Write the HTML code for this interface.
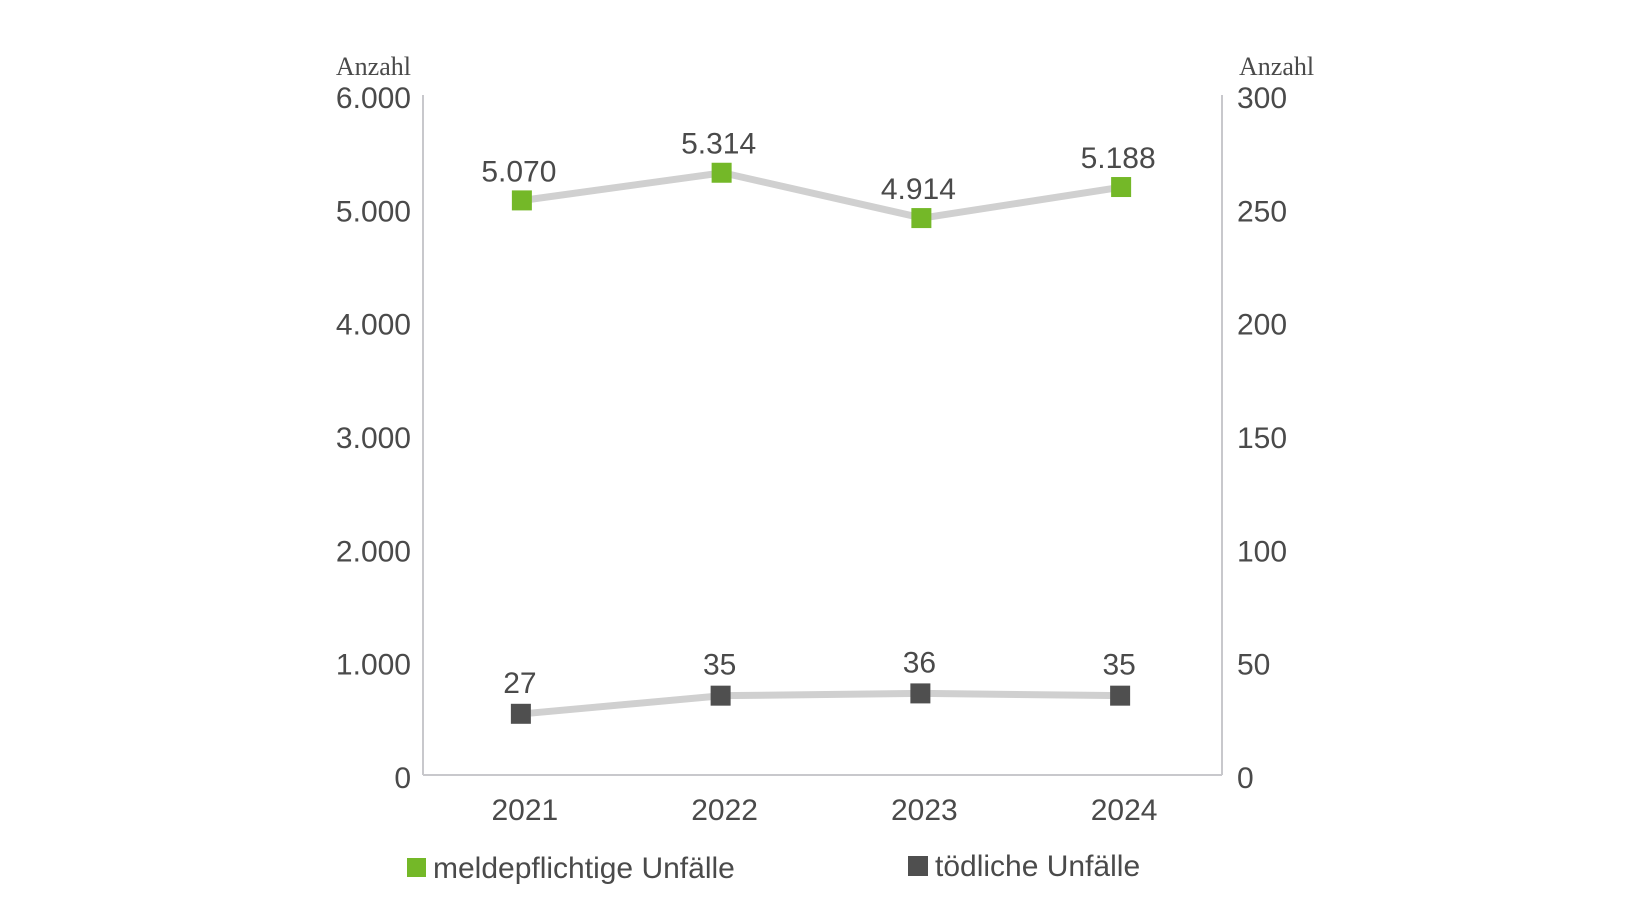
<!DOCTYPE html>
<html><head><meta charset="utf-8"><style>
html,body{margin:0;padding:0;background:#fff;}
svg{display:block;}
text{font-family:"Liberation Sans",sans-serif;fill:#4a4a4a;}
</style></head><body>
<svg width="1632" height="918" viewBox="0 0 1632 918">
<text x="411" y="75" text-anchor="end" font-family="Liberation Serif,serif" style="font-family:'Liberation Serif',serif" font-size="26">Anzahl</text>
<text x="1239" y="75" text-anchor="start" style="font-family:'Liberation Serif',serif" font-size="26">Anzahl</text>
<g id="axes"></g>
<g id="lines"></g>
<g id="marks"></g>
<rect x="407" y="858" width="19" height="19" fill="#74b828"/>
<text x="433" y="878" font-size="30">meldepflichtige Unfälle</text>
<rect x="908" y="856" width="20" height="20" fill="#4f4f4f"/>
<text x="935" y="876" font-size="30">tödliche Unfälle</text>
</svg>
<script>
const categories=["2021","2022","2023","2024"];
const reportable=[5070,5314,4914,5188];
const fatal=[27,35,36,35];
const reportableLabels=["5.070","5.314","4.914","5.188"];
const fatalLabels=["27","35","36","35"];
const leftTicks=[0,1000,2000,3000,4000,5000,6000];
const leftTickLabels=["0","1.000","2.000","3.000","4.000","5.000","6.000"];
const rightTicks=[0,50,100,150,200,250,300];
const NS="http://www.w3.org/2000/svg";
const X0=423,X1=1222,Y0=775,YT=95;
function xs(i){return X0+(X1-X0)/categories.length*(i+0.5);}
function yl(v){return Y0-(Y0-YT)*v/6000;}
function yr(v){return Y0-(Y0-YT)*v/300;}
function mk(tag,attrs,parent,txt){const e=document.createElementNS(NS,tag);for(const k in attrs)e.setAttribute(k,attrs[k]);if(txt!==undefined)e.textContent=txt;parent.appendChild(e);return e;}
const axes=document.getElementById('axes'),lines=document.getElementById('lines'),marks=document.getElementById('marks');
let e;
e=mk('line',{x1:X0,y1:YT,x2:X0,y2:Y0,stroke:'#c8c8cc','stroke-width':2},axes);


e=mk('line',{x1:X1,y1:YT,x2:X1,y2:Y0,stroke:'#c8c8cc','stroke-width':2},axes);


e=mk('line',{x1:X0,y1:Y0,x2:X1,y2:Y0,stroke:'#c8c8cc','stroke-width':2},axes);


leftTicks.forEach((t,i)=>{
 e=mk('text',{x:411,y:yl(t)+13,'text-anchor':'end','font-size':30},axes,leftTickLabels[i]);
 
 
});
rightTicks.forEach(t=>{
 e=mk('text',{x:1237,y:yr(t)+13,'text-anchor':'start','font-size':30},axes,String(t));
 
 
});
categories.forEach((c,i)=>{
 e=mk('text',{x:xs(i)+2,y:820,'text-anchor':'middle','font-size':30},axes,c);
 
 
});
e=mk('polyline',{points:reportable.map((v,i)=>xs(i)+','+yl(v)).join(' '),fill:'none',stroke:'#d0d0d0','stroke-width':7},lines);


e=mk('polyline',{points:fatal.map((v,i)=>xs(i)+','+yr(v)).join(' '),fill:'none',stroke:'#d0d0d0','stroke-width':7},lines);


reportable.forEach((v,i)=>{
 e=mk('rect',{x:xs(i)-11,y:yl(v)-10,width:20,height:20,fill:'#74b828'},marks);
 
 
 e=mk('text',{x:xs(i)-4,y:yl(v)-19,'text-anchor':'middle','font-size':30},marks,reportableLabels[i]);
 
 
});
fatal.forEach((v,i)=>{
 e=mk('rect',{x:xs(i)-12,y:yr(v)-10,width:20,height:20,fill:'#4f4f4f'},marks);
 
 
 e=mk('text',{x:xs(i)-3,y:yr(v)-21,'text-anchor':'middle','font-size':30},marks,fatalLabels[i]);
 
 
});
</script>
</body></html>
